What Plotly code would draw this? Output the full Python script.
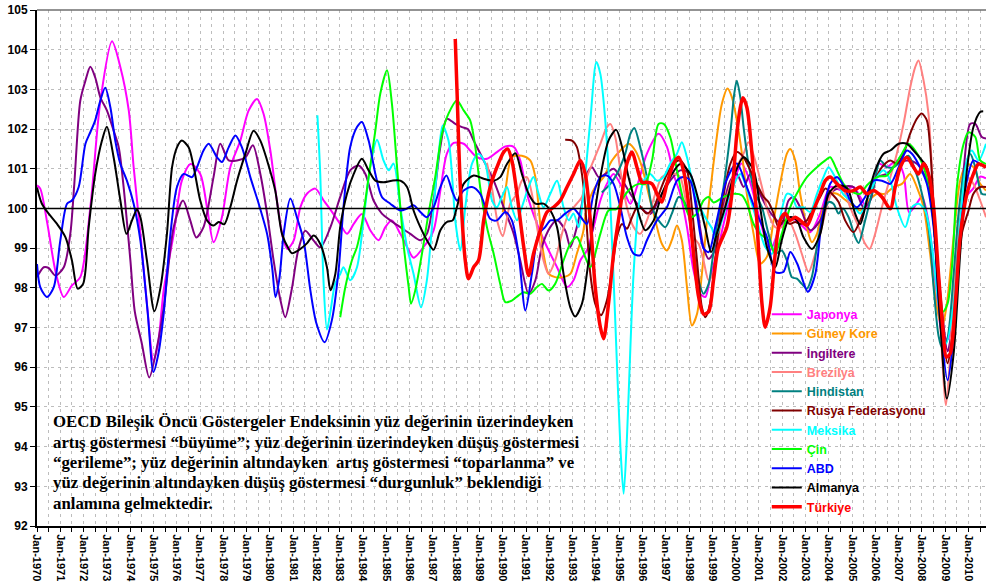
import plotly.graph_objects as go

# OECD composite leading indicator, (decimal year, index value) per country
japonya = [(1970.00,100.58),(1970.14,100.50),(1970.45,99.60),(1970.80,98.40),(1971.15,97.77),(1971.50,98.06),(1971.86,98.27),(1972.29,100.03),(1972.72,102.70),(1973.22,104.21),(1973.58,103.56),(1973.94,102.47),(1974.15,101.04),(1974.44,99.36),(1974.72,97.60),(1975.00,96.17),(1975.20,96.60),(1975.44,97.94),(1975.87,99.36),(1976.22,100.70),(1976.60,101.12),(1977.01,100.87),(1977.30,100.03),(1977.58,99.15),(1977.94,99.78),(1978.30,101.04),(1978.73,101.71),(1979.09,102.47),(1979.45,102.76),(1979.73,102.38),(1980.02,101.46),(1980.30,100.20),(1980.59,99.19),(1980.75,98.98),(1981.02,99.19),(1981.31,100.03),(1981.59,100.37),(1981.95,100.50),(1982.31,100.20),(1982.60,99.97),(1983.02,99.61),(1983.31,99.36),(1983.60,99.61),(1983.95,99.86),(1984.31,99.45),(1984.67,99.20),(1984.96,99.53),(1985.24,99.70),(1985.60,99.36),(1985.89,99.03),(1986.17,98.76),(1986.60,99.03),(1987.03,99.45),(1987.32,100.45),(1987.60,101.38),(1987.89,101.65),(1988.32,101.63),(1988.60,101.46),(1988.89,101.29),(1989.32,101.25),(1989.75,101.42),(1990.11,101.56),(1990.47,101.55),(1990.75,101.21),(1991.04,100.37),(1991.47,99.61),(1991.90,99.03),(1992.33,98.52),(1992.76,98.02),(1993.04,98.19),(1993.33,98.69),(1993.61,98.94),(1993.90,99.53),(1994.19,100.20),(1994.47,100.62),(1994.76,100.87),(1995.19,100.45),(1995.48,100.12),(1995.76,100.54),(1996.19,101.38),(1996.69,101.88),(1997.05,101.55),(1997.33,100.87),(1997.62,100.37),(1997.91,99.53),(1998.19,98.44),(1998.48,97.85),(1998.70,97.77),(1998.91,98.27),(1999.20,98.90),(1999.60,99.90),(2000.00,100.80),(2000.25,101.13),(2000.60,100.70),(2001.05,99.70),(2001.48,98.94),(2001.91,99.53),(2002.34,99.78),(2002.77,99.61),(2003.20,99.40),(2003.63,99.87),(2004.06,100.54),(2004.60,100.45),(2005.06,100.54),(2005.35,100.29),(2005.63,100.03),(2005.92,100.54),(2006.14,101.13),(2006.49,101.04),(2006.92,101.21),(2007.21,100.87),(2007.45,99.90),(2007.75,100.10),(2008.00,100.30),(2008.30,99.60),(2008.60,98.00),(2008.85,96.90),(2009.10,96.70),(2009.35,97.50),(2009.60,99.20),(2009.90,100.30),(2010.20,100.50),(2010.50,100.80),(2010.75,100.76)]

guney_kore = [(1990.00,99.90),(1990.15,100.60),(1990.39,101.29),(1990.82,101.33),(1991.18,101.21),(1991.40,100.79),(1991.54,100.03),(1991.75,98.86),(1991.97,98.35),(1992.25,98.27),(1992.61,98.27),(1992.90,98.35),(1993.18,98.86),(1993.45,99.40),(1993.61,100.03),(1993.97,100.54),(1994.33,100.79),(1994.69,101.21),(1995.05,101.46),(1995.40,101.63),(1995.69,101.46),(1995.98,101.04),(1996.26,100.37),(1996.55,99.70),(1996.83,99.11),(1997.05,98.94),(1997.26,99.20),(1997.48,99.57),(1997.69,99.20),(1997.91,98.02),(1998.12,97.05),(1998.34,97.34),(1998.55,98.35),(1998.77,99.70),(1998.98,100.79),(1999.19,101.80),(1999.41,102.64),(1999.65,103.02),(1999.84,102.80),(2000.05,102.22),(2000.27,101.38),(2000.48,100.37),(2000.77,99.36),(2001.05,98.61),(2001.34,98.78),(2001.63,99.70),(2001.91,100.62),(2002.20,101.38),(2002.34,101.50),(2002.56,101.21),(2002.77,100.37),(2003.06,99.53),(2003.27,99.15),(2003.49,99.36),(2003.77,100.03),(2004.06,100.37),(2004.35,100.37),(2004.70,100.22),(2004.92,100.12),(2005.35,99.95),(2005.71,100.20),(2006.07,100.37),(2006.42,100.37),(2006.78,100.54),(2007.14,100.62),(2007.49,100.87),(2007.78,100.54),(2008.07,100.03),(2008.35,98.86),(2008.64,97.51),(2008.86,97.01),(2009.07,97.60),(2009.36,99.28),(2009.64,100.70),(2009.93,101.12),(2010.21,101.04),(2010.50,100.62),(2010.75,100.45)]

ingiltere = [(1970.00,98.27),(1970.29,98.52),(1970.50,98.50),(1970.79,98.31),(1971.15,98.52),(1971.43,99.36),(1971.60,100.60),(1971.86,102.72),(1972.08,103.22),(1972.29,103.57),(1972.50,103.30),(1972.72,102.80),(1973.00,102.47),(1973.29,101.96),(1973.51,101.54),(1973.72,100.54),(1974.01,98.69),(1974.20,97.40),(1974.50,96.60),(1974.82,95.74),(1975.15,96.50),(1975.44,97.50),(1975.87,99.53),(1976.27,100.20),(1976.58,99.70),(1976.84,99.27),(1977.15,99.53),(1977.58,100.79),(1977.87,101.63),(1978.23,101.21),(1978.59,101.21),(1978.95,101.29),(1979.27,101.59),(1979.59,100.87),(1979.88,99.87),(1980.16,98.69),(1980.45,97.70),(1980.66,97.26),(1980.95,98.00),(1981.20,98.90),(1981.52,99.44),(1981.88,99.19),(1982.17,99.02),(1982.60,99.53),(1983.02,100.29),(1983.45,100.96),(1983.81,101.08),(1984.10,100.87),(1984.45,100.20),(1984.81,99.87),(1985.17,99.70),(1985.60,99.53),(1986.03,99.36),(1986.46,99.20),(1986.74,99.36),(1987.03,100.20),(1987.32,101.55),(1987.60,102.26),(1987.96,102.13),(1988.25,102.05),(1988.50,102.00),(1988.75,101.71),(1989.18,101.21),(1989.61,100.70),(1990.04,100.03),(1990.47,99.36),(1990.75,98.69),(1991.11,97.85),(1991.40,98.19),(1991.68,99.03),(1992.04,99.53),(1992.33,99.70),(1992.68,99.45),(1992.90,99.03),(1993.18,99.53),(1993.40,100.12),(1993.61,100.87),(1993.83,101.04),(1994.12,100.79),(1994.40,100.87),(1994.76,101.00),(1995.05,100.79),(1995.48,100.37),(1995.90,100.03),(1996.33,99.86),(1996.76,100.29),(1997.19,100.70),(1997.62,100.96),(1998.05,100.87),(1998.34,100.03),(1998.62,99.03),(1998.84,98.73),(1999.10,98.94),(1999.34,99.70),(1999.77,100.70),(2000.05,100.87),(2000.34,100.54),(2000.63,100.87),(2000.91,100.54),(2001.34,100.03),(2001.77,99.70),(2001.98,99.61),(2002.27,100.20),(2002.49,100.29),(2002.77,100.03),(2003.20,99.45),(2003.63,99.70),(2004.06,100.37),(2004.55,100.54),(2005.06,100.54),(2005.49,100.03),(2005.78,100.20),(2006.07,100.79),(2006.49,100.87),(2006.92,101.13),(2007.35,101.21),(2007.78,101.13),(2008.21,100.70),(2008.57,99.28),(2008.85,97.50),(2009.10,96.40),(2009.30,97.00),(2009.50,98.86),(2009.79,100.96),(2010.07,102.13),(2010.29,102.13),(2010.57,101.80),(2010.75,101.76)]

brezilya = [(1989.32,101.15),(1989.54,100.50),(1989.80,99.60),(1990.00,99.30),(1990.32,100.12),(1990.61,100.37),(1990.82,100.70),(1991.04,100.79),(1991.25,100.37),(1991.47,99.53),(1991.75,98.69),(1991.97,98.35),(1992.25,98.69),(1992.54,99.36),(1992.83,99.87),(1993.18,100.12),(1993.40,100.29),(1993.61,100.79),(1993.90,101.21),(1994.19,101.63),(1994.47,102.05),(1994.62,102.13),(1994.83,101.80),(1995.05,100.96),(1995.33,100.03),(1995.62,99.53),(1995.90,99.36),(1996.19,99.70),(1996.55,100.37),(1996.83,100.79),(1997.12,100.87),(1997.41,100.87),(1997.62,100.79),(1997.91,100.03),(1998.19,99.28),(1998.41,99.11),(1998.62,98.69),(1998.84,98.19),(1999.05,98.40),(1999.19,99.03),(1999.55,100.12),(1999.98,100.96),(2000.34,101.38),(2000.55,101.67),(2000.84,101.21),(2001.13,100.54),(2001.41,99.87),(2001.70,99.53),(2001.98,99.53),(2002.27,99.70),(2002.56,99.36),(2002.84,98.86),(2003.13,98.40),(2003.42,98.86),(2003.70,99.53),(2003.99,100.20),(2004.27,100.54),(2004.63,100.45),(2004.92,100.03),(2005.28,99.53),(2005.56,99.11),(2005.75,98.98),(2005.99,99.36),(2006.28,100.03),(2006.56,100.62),(2006.92,101.38),(2007.21,102.13),(2007.50,103.06),(2007.71,103.56),(2007.85,103.73),(2008.07,103.22),(2008.28,102.39),(2008.43,100.96),(2008.57,99.28),(2008.78,97.18),(2009.03,95.04),(2009.20,96.20),(2009.36,98.02),(2009.64,100.03),(2009.93,100.79),(2010.21,100.62),(2010.50,100.20),(2010.75,99.78)]

hindistan = [(1994.25,100.40),(1994.62,100.62),(1994.90,100.87),(1995.26,101.38),(1995.48,101.88),(1995.65,102.03),(1995.90,101.55),(1996.19,100.79),(1996.41,100.03),(1996.69,99.70),(1996.98,99.53),(1997.26,99.87),(1997.55,100.29),(1997.76,100.20),(1997.98,99.87),(1998.19,99.03),(1998.41,98.19),(1998.62,97.85),(1998.84,98.10),(1999.00,98.70),(1999.19,99.53),(1999.48,100.54),(1999.77,101.88),(1999.94,102.89),(2000.05,103.22),(2000.20,102.80),(2000.34,102.05),(2000.55,101.13),(2000.84,100.37),(2001.13,100.03),(2001.41,99.36),(2001.70,98.86),(2001.98,98.94),(2002.20,98.69),(2002.41,98.27),(2002.63,98.23),(2002.84,98.10),(2003.06,97.98),(2003.27,98.27),(2003.49,99.03),(2003.77,99.87),(2003.99,100.16),(2004.20,100.12),(2004.42,99.87),(2004.60,100.00),(2004.85,99.78),(2005.13,99.28),(2005.28,99.13),(2005.56,99.70),(2005.92,100.54),(2006.21,101.21),(2006.49,101.04),(2006.78,101.04),(2007.14,101.21),(2007.42,101.33),(2007.71,100.96),(2008.00,100.37),(2008.28,99.53),(2008.50,98.02),(2008.71,96.80),(2008.86,96.50),(2009.07,96.67),(2009.36,98.35),(2009.57,99.87),(2009.79,100.87),(2010.07,101.38),(2010.29,101.04),(2010.57,100.37),(2010.75,100.35)]

rusya = [(1992.68,101.73),(1992.97,101.71),(1993.18,101.55),(1993.33,101.13),(1993.47,100.54),(1993.60,99.60),(1993.76,98.35),(1993.97,97.60),(1994.22,97.31),(1994.47,97.68),(1994.69,98.44),(1994.90,99.28),(1995.12,99.61),(1995.33,99.49),(1995.55,99.78),(1995.83,100.08),(1996.19,99.87),(1996.48,100.03),(1996.76,100.45),(1997.05,100.87),(1997.33,101.12),(1997.62,101.21),(1997.91,100.96),(1998.12,100.03),(1998.34,98.69),(1998.55,97.51),(1998.70,97.26),(1998.90,97.60),(1999.10,98.60),(1999.30,99.60),(1999.50,100.40),(1999.77,101.12),(2000.05,101.42),(2000.34,101.29),(2000.63,100.96),(2000.91,100.62),(2001.20,100.29),(2001.41,100.16),(2001.63,99.87),(2001.84,99.53),(2002.06,99.70),(2002.34,99.61),(2002.56,99.66),(2002.77,99.61),(2003.06,99.70),(2003.34,100.03),(2003.63,100.29),(2003.85,100.50),(2004.13,100.37),(2004.42,100.16),(2004.70,99.70),(2005.06,99.40),(2005.35,99.70),(2005.63,100.20),(2005.92,100.62),(2006.28,101.04),(2006.64,101.21),(2006.92,101.13),(2007.21,101.38),(2007.49,101.88),(2007.78,102.26),(2007.99,102.39),(2008.21,102.22),(2008.35,101.55),(2008.50,100.03),(2008.71,98.02),(2008.93,96.67),(2009.10,96.10),(2009.28,96.67),(2009.50,98.02),(2009.71,99.36),(2010.00,99.95),(2010.21,100.37),(2010.50,100.54),(2010.75,100.54)]

meksika = [(1982.04,102.35),(1982.16,100.90),(1982.30,98.20),(1982.45,96.95),(1982.60,97.40),(1982.80,98.10),(1983.02,98.35),(1983.16,98.52),(1983.45,98.19),(1983.74,98.52),(1984.02,99.70),(1984.31,101.04),(1984.60,101.73),(1984.88,101.21),(1985.10,100.96),(1985.31,101.13),(1985.60,100.03),(1985.89,99.03),(1986.17,98.35),(1986.49,97.51),(1986.74,98.19),(1987.03,100.03),(1987.25,101.38),(1987.42,102.09),(1987.67,101.71),(1987.85,100.60),(1987.96,99.70),(1988.18,98.94),(1988.39,100.03),(1988.68,101.13),(1988.96,101.38),(1989.25,101.13),(1989.54,100.20),(1989.75,100.03),(1989.96,100.29),(1990.18,100.54),(1990.39,100.03),(1990.61,99.70),(1990.82,100.03),(1991.11,100.54),(1991.32,100.79),(1991.54,100.37),(1991.75,100.03),(1992.04,100.37),(1992.33,100.70),(1992.61,100.03),(1992.83,99.70),(1993.04,99.87),(1993.26,99.53),(1993.45,100.30),(1993.76,102.22),(1994.02,103.69),(1994.19,103.39),(1994.40,102.22),(1994.62,100.12),(1994.83,97.18),(1995.05,94.00),(1995.19,92.81),(1995.33,94.20),(1995.48,96.50),(1995.62,98.40),(1995.83,100.03),(1996.05,100.70),(1996.33,100.87),(1996.62,100.70),(1996.90,100.79),(1997.19,101.13),(1997.48,101.38),(1997.69,101.67),(1997.91,101.29),(1998.19,100.54),(1998.48,100.03),(1998.77,99.70),(1998.98,99.50),(1999.12,99.28),(1999.41,99.70),(1999.77,100.37),(2000.20,100.87),(2000.55,100.37),(2000.91,99.70),(2001.27,99.03),(2001.56,98.86),(2001.91,99.78),(2002.20,100.37),(2002.41,100.33),(2002.63,100.03),(2002.91,100.03),(2003.20,99.91),(2003.49,100.37),(2003.77,100.79),(2003.99,101.04),(2004.27,100.79),(2004.63,100.35),(2004.92,100.20),(2005.35,99.87),(2005.63,100.20),(2006.07,100.79),(2006.35,100.96),(2006.64,100.70),(2006.92,100.03),(2007.28,99.53),(2007.57,100.03),(2007.85,100.12),(2008.14,99.95),(2008.43,99.03),(2008.71,97.60),(2009.04,96.60),(2009.36,97.60),(2009.64,99.70),(2009.93,101.21),(2010.14,101.46),(2010.43,101.21),(2010.75,101.63)]

cin = [(1983.02,97.26),(1983.24,98.02),(1983.52,98.69),(1983.74,99.03),(1983.95,99.61),(1984.24,100.79),(1984.53,101.97),(1984.74,102.89),(1985.03,103.48),(1985.24,102.64),(1985.46,101.04),(1985.74,99.11),(1985.96,98.02),(1986.06,97.60),(1986.24,97.93),(1986.53,98.86),(1986.81,99.87),(1987.10,100.79),(1987.39,101.88),(1987.67,102.39),(1988.03,102.72),(1988.32,102.47),(1988.60,102.22),(1988.82,101.55),(1989.03,100.54),(1989.32,99.53),(1989.61,98.86),(1989.89,98.10),(1990.11,97.64),(1990.39,97.68),(1990.68,97.81),(1990.90,97.89),(1991.18,97.85),(1991.47,98.02),(1991.68,98.10),(1991.97,97.93),(1992.25,98.10),(1992.61,98.69),(1992.90,99.11),(1993.18,99.28),(1993.40,99.00),(1993.76,98.52),(1994.19,99.36),(1994.54,99.95),(1994.90,99.99),(1995.19,100.29),(1995.48,100.50),(1995.83,100.62),(1996.12,100.62),(1996.41,101.21),(1996.69,102.13),(1996.91,102.13),(1997.19,101.80),(1997.48,100.96),(1997.76,100.20),(1998.05,99.78),(1998.34,99.87),(1998.62,100.20),(1998.84,100.29),(1999.05,100.15),(1999.48,100.29),(1999.91,100.37),(2000.27,100.33),(2000.48,100.12),(2000.77,99.61),(2001.05,99.36),(2001.41,99.20),(2001.70,98.86),(2001.98,99.36),(2002.34,100.03),(2002.70,100.45),(2003.06,100.79),(2003.49,101.04),(2003.85,101.21),(2004.06,101.29),(2004.35,100.96),(2004.63,100.62),(2004.92,100.45),(2005.35,100.37),(2005.63,100.58),(2006.07,100.79),(2006.49,100.83),(2006.78,101.04),(2007.14,101.38),(2007.42,101.63),(2007.71,101.46),(2008.07,101.04),(2008.35,100.37),(2008.64,98.86),(2008.90,97.40),(2009.10,97.60),(2009.30,98.60),(2009.50,100.54),(2009.79,101.63),(2010.00,101.92),(2010.29,101.80),(2010.50,101.21),(2010.75,101.12)]

abd = [(1970.00,98.60),(1970.14,98.02),(1970.43,97.77),(1970.72,98.02),(1971.00,99.19),(1971.29,100.12),(1971.50,100.20),(1971.79,100.54),(1972.08,101.63),(1972.29,101.92),(1972.50,102.22),(1972.72,102.72),(1972.93,103.04),(1973.15,102.55),(1973.36,101.71),(1973.58,101.12),(1973.86,100.70),(1974.15,100.12),(1974.44,99.19),(1974.75,97.40),(1975.00,95.88),(1975.20,96.30),(1975.44,97.35),(1975.73,99.36),(1976.01,100.54),(1976.30,100.87),(1976.66,100.79),(1976.87,101.04),(1977.15,101.46),(1977.37,101.63),(1977.73,101.29),(1977.94,101.17),(1978.23,101.54),(1978.52,101.84),(1978.80,101.54),(1979.16,100.79),(1979.52,100.12),(1979.88,99.36),(1980.10,98.50),(1980.24,97.77),(1980.40,98.20),(1980.60,99.40),(1980.88,100.25),(1981.16,99.78),(1981.45,99.19),(1981.74,97.93),(1982.00,97.10),(1982.35,96.63),(1982.66,97.18),(1982.95,98.44),(1983.16,100.03),(1983.45,101.55),(1983.74,102.05),(1983.95,102.18),(1984.24,101.71),(1984.53,100.87),(1984.81,100.29),(1985.17,100.12),(1985.60,99.95),(1985.89,100.00),(1986.17,100.08),(1986.46,99.91),(1986.74,99.78),(1987.03,100.03),(1987.32,100.54),(1987.58,100.83),(1987.85,100.40),(1988.03,100.20),(1988.32,100.45),(1988.68,100.54),(1989.03,100.37),(1989.46,99.74),(1989.75,99.70),(1990.11,99.91),(1990.39,99.70),(1990.68,98.86),(1990.97,97.43),(1991.25,98.35),(1991.54,99.36),(1991.82,99.53),(1992.04,99.70),(1992.33,99.70),(1992.68,99.87),(1993.04,99.99),(1993.33,99.80),(1993.61,99.61),(1993.90,100.37),(1994.19,100.79),(1994.47,100.83),(1994.76,100.62),(1995.05,100.03),(1995.33,99.28),(1995.62,98.86),(1995.90,98.82),(1996.19,99.20),(1996.62,99.70),(1997.05,100.03),(1997.48,100.70),(1997.76,100.79),(1998.05,100.70),(1998.34,99.87),(1998.62,99.00),(1998.84,98.90),(1999.15,99.60),(1999.60,100.70),(2000.05,101.13),(2000.48,100.54),(2000.91,99.87),(2001.34,99.28),(2001.70,98.40),(2002.05,98.40),(2002.35,98.90),(2002.65,98.60),(2003.10,97.90),(2003.42,98.35),(2003.70,99.70),(2004.06,100.62),(2004.35,100.79),(2004.70,100.50),(2004.92,100.20),(2005.21,100.03),(2005.56,100.29),(2005.92,100.70),(2006.28,100.70),(2006.64,100.62),(2007.00,101.04),(2007.35,101.46),(2007.57,101.38),(2007.92,101.04),(2008.21,100.62),(2008.50,99.53),(2008.78,97.18),(2009.10,95.67),(2009.36,96.76),(2009.64,99.28),(2009.93,100.70),(2010.21,101.21),(2010.50,101.12),(2010.75,101.04)]

almanya = [(1970.00,100.53),(1970.21,100.12),(1970.50,99.87),(1970.86,99.61),(1971.22,99.28),(1971.50,98.69),(1971.75,97.98),(1971.98,98.10),(1972.22,99.53),(1972.50,100.87),(1972.79,101.71),(1973.00,102.06),(1973.29,101.29),(1973.58,100.20),(1973.84,99.36),(1974.08,99.70),(1974.29,99.97),(1974.44,99.78),(1974.72,98.69),(1975.04,97.41),(1975.30,98.00),(1975.58,99.36),(1975.80,101.04),(1976.01,101.54),(1976.22,101.71),(1976.51,101.54),(1976.73,101.04),(1977.01,100.20),(1977.30,99.70),(1977.58,99.57),(1977.80,99.66),(1978.04,99.60),(1978.30,100.03),(1978.59,100.70),(1978.95,101.38),(1979.30,101.96),(1979.59,101.71),(1979.88,101.21),(1980.23,100.45),(1980.52,99.36),(1980.81,98.98),(1980.95,98.87),(1981.31,98.98),(1981.59,99.12),(1981.88,99.32),(1982.17,99.10),(1982.45,98.52),(1982.60,97.94),(1982.81,98.35),(1983.02,99.53),(1983.31,100.37),(1983.60,100.87),(1983.95,101.25),(1984.24,100.96),(1984.53,100.70),(1984.88,100.66),(1985.24,100.70),(1985.60,100.70),(1985.89,100.54),(1986.17,99.95),(1986.46,99.53),(1986.74,99.20),(1987.03,98.96),(1987.32,99.45),(1987.60,99.66),(1987.85,99.70),(1988.03,100.03),(1988.32,100.62),(1988.75,100.83),(1989.18,100.75),(1989.61,100.70),(1989.89,100.79),(1990.18,101.12),(1990.54,101.39),(1990.82,100.87),(1991.11,100.37),(1991.40,100.12),(1991.75,100.12),(1992.04,99.95),(1992.33,99.53),(1992.61,98.35),(1992.90,97.51),(1993.11,97.28),(1993.40,97.60),(1993.61,98.35),(1993.90,99.70),(1994.19,100.79),(1994.54,101.71),(1994.87,101.98),(1995.12,101.55),(1995.40,100.79),(1995.76,100.03),(1996.12,99.45),(1996.48,99.70),(1996.83,100.37),(1997.19,100.79),(1997.62,101.12),(1998.05,100.87),(1998.41,100.20),(1998.70,99.50),(1998.95,98.90),(1999.19,99.36),(1999.55,100.03),(1999.91,100.79),(2000.34,101.29),(2000.77,100.96),(2001.05,100.03),(2001.34,99.03),(2001.70,98.52),(2001.98,99.20),(2002.34,99.78),(2002.63,99.70),(2002.91,99.28),(2003.27,98.98),(2003.63,99.36),(2003.99,100.37),(2004.35,100.58),(2004.70,100.55),(2004.85,100.45),(2005.13,99.87),(2005.35,99.61),(2005.63,100.20),(2005.99,100.96),(2006.35,101.38),(2006.64,101.46),(2007.00,101.63),(2007.35,101.63),(2007.64,101.46),(2008.00,101.21),(2008.21,101.04),(2008.50,99.70),(2008.78,97.18),(2009.07,95.21),(2009.36,96.34),(2009.64,98.86),(2009.93,100.96),(2010.21,102.05),(2010.50,102.43),(2010.63,102.45)]

turkiye = [(1987.96,104.27),(1988.03,103.06),(1988.18,100.54),(1988.39,98.69),(1988.53,98.23),(1988.75,98.52),(1988.96,98.69),(1989.18,99.70),(1989.46,100.54),(1989.75,101.04),(1990.04,101.42),(1990.21,101.50),(1990.39,101.21),(1990.61,100.37),(1990.90,99.03),(1991.11,98.31),(1991.32,98.86),(1991.61,99.45),(1991.90,99.91),(1992.18,100.03),(1992.47,100.20),(1992.76,100.54),(1993.04,100.87),(1993.33,101.21),(1993.54,100.87),(1993.76,99.70),(1993.97,98.02),(1994.19,97.01),(1994.33,96.72),(1994.54,97.60),(1994.76,98.86),(1995.05,100.03),(1995.33,101.13),(1995.55,101.42),(1995.76,101.04),(1995.98,100.66),(1996.19,100.66),(1996.41,100.62),(1996.62,100.37),(1996.83,100.16),(1997.05,100.62),(1997.33,101.13),(1997.55,101.29),(1997.76,100.96),(1997.98,100.12),(1998.19,98.86),(1998.41,97.77),(1998.62,97.34),(1998.84,97.40),(1999.05,98.20),(1999.25,99.00),(1999.62,99.53),(1999.84,100.37),(2000.05,101.88),(2000.20,102.55),(2000.31,102.79),(2000.48,102.55),(2000.70,101.38),(2000.91,99.70),(2001.13,97.60),(2001.27,97.01),(2001.48,97.51),(2001.70,98.86),(2001.91,99.70),(2002.13,99.87),(2002.34,99.70),(2002.56,99.78),(2002.77,99.70),(2003.06,99.57),(2003.34,99.95),(2003.63,100.37),(2003.85,100.70),(2004.06,100.79),(2004.35,100.62),(2004.70,100.45),(2005.06,100.45),(2005.35,100.54),(2005.63,100.37),(2005.92,100.45),(2006.28,100.29),(2006.64,99.99),(2006.85,100.54),(2007.07,101.04),(2007.35,101.29),(2007.64,101.04),(2007.85,100.87),(2008.07,101.13),(2008.28,100.87),(2008.50,100.03),(2008.71,98.35),(2008.93,96.76),(2009.04,96.26),(2009.21,96.34),(2009.43,97.60),(2009.64,99.28),(2009.93,100.37),(2010.21,100.87),(2010.43,101.12),(2010.75,101.04)]

# legend order: name, data, colour, line width
series = [
    ("Japonya", japonya, "#FF00FF", 2),
    ("Güney Kore", guney_kore, "#FF9900", 2),
    ("İngiltere", ingiltere, "#800080", 2),
    ("Brezilya", brezilya, "#FF8080", 2),
    ("Hindistan", hindistan, "#008080", 2),
    ("Rusya Federasyonu", rusya, "#800000", 2),
    ("Meksika", meksika, "#00FFFF", 2),
    ("Çin", cin, "#00FF00", 2),
    ("ABD", abd, "#0000FF", 2),
    ("Almanya", almanya, "#000000", 2),
    ("Türkiye", turkiye, "#FF0000", 3.5),
]

years = list(range(1970, 2011))
year_labels = [f"Jan-{y}" for y in years]

note_lines = [
    "OECD Bileşik Öncü Göstergeler Endeksinin yüz değerinin üzerindeyken",
    "artış göstermesi “büyüme”; yüz değerinin üzerindeyken düşüş göstermesi",
    "“gerileme”; yüz değerinin altındayken \u00a0artış göstermesi “toparlanma” ve",
    "yüz değerinin altındayken düşüş göstermesi “durgunluk” beklendiği",
    "anlamına gelmektedir.",
]

GRID = "#BDBDBD"
SANS = "Liberation Sans, Arial, sans-serif"
SERIF = "Liberation Serif, Times New Roman, serif"

# plot area geometry in pixels (used to place the explanatory note)
TOP, PLOT_H = 10, 516

fig = go.Figure()
for name, pts, color, width in series:
    fig.add_trace(go.Scatter(
        x=[p[0] for p in pts],
        y=[p[1] for p in pts],
        mode="lines",
        name=f"<span style='color:{color}'>{name}</span>",
        line=dict(color=color, width=width, shape="spline", smoothing=0.8),
        hoverinfo="skip",
    ))

# reference level 100 and the plot-area top border
fig.add_hline(y=100, line=dict(color="black", width=1.6))
fig.add_shape(type="line", xref="paper", yref="paper", x0=0, x1=1, y0=1, y1=1,
              line=dict(color="#6F6F6F", width=1.5))

# explanatory note, one annotation per line for tight line spacing
for i, line in enumerate(note_lines):
    y_px = 421.7 + i * 20.4
    fig.add_annotation(
        text=line, xref="paper", yref="paper",
        x=0.0148, y=1 - (y_px - TOP) / PLOT_H,
        xanchor="left", yanchor="middle", align="left", showarrow=False,
        font=dict(family=SERIF, size=16.8, color="black", weight="bold"),
    )

fig.update_layout(
    width=986, height=586,
    margin=dict(l=37, r=0, t=TOP, b=60, autoexpand=False),
    paper_bgcolor="white", plot_bgcolor="white",
    showlegend=True,
    legend=dict(
        x=0.769, y=0.4386, xanchor="left", yanchor="top",
        bgcolor="rgba(0,0,0,0)", borderwidth=0,
        font=dict(family=SANS, size=12.5, color="black", weight="bold"),
        tracegroupgap=0, itemwidth=30,
    ),
    xaxis=dict(
        range=[1970, 2010.75],
        tickmode="array", tickvals=years, ticktext=year_labels,
        tickangle=90,
        tickfont=dict(family=SANS, size=11, color="black", weight="bold"),
        ticks="outside", ticklen=4, tickcolor="black", tickwidth=1,
        showline=True, linecolor="black", linewidth=2,
        showgrid=True, gridcolor=GRID, griddash="3px,4px", gridwidth=1,
        minor=dict(tickmode="linear", tick0=1970.5, dtick=1, ticks="outside",
                   ticklen=4, tickcolor="black", showgrid=True,
                   gridcolor=GRID, griddash="3px,4px", gridwidth=1),
        zeroline=False,
    ),
    yaxis=dict(
        range=[92, 105], tick0=92, dtick=1,
        tickfont=dict(family=SANS, size=12, color="black", weight="bold"),
        ticks="outside", ticklen=5, tickcolor="black", tickwidth=1,
        showline=True, linecolor="black", linewidth=2,
        showgrid=True, gridcolor=GRID, griddash="3px,4px", gridwidth=1,
        zeroline=False,
    ),
)

fig.write_html("out.html")
